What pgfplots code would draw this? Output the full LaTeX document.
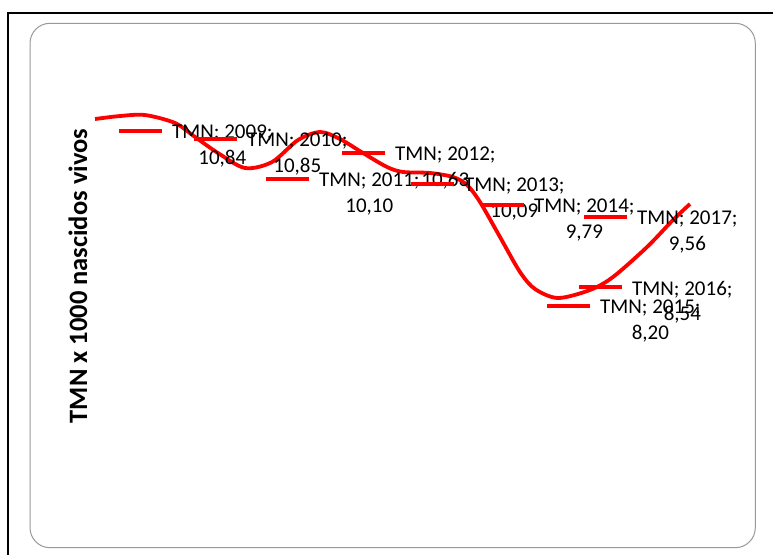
\documentclass[border=0pt]{standalone}
\usepackage{fontspec}
\setmainfont{Carlito}
\usepackage{pgfplots}
\pgfplotsset{compat=1.18}
\definecolor{framegray}{HTML}{9A9A9A}
\begin{document}
\begin{tikzpicture}
\useasboundingbox (0,0) rectangle (773bp,555bp);
\clip (0,0) rectangle (773bp,555bp);
\fill[white] (0,0) rectangle (773bp,555bp);
\draw[black, line width=2bp] (8.3bp,-20bp) -- (8.3bp,542.2bp) -- (800bp,542.2bp);
\draw[framegray, line width=1bp, rounded corners=20bp] (30bp,7.3bp) rectangle (755.3bp,531.7bp);
\begin{axis}[at={(0,0)}, anchor=south west, width=773bp, height=555bp,
  scale only axis, hide axis, xmin=0, xmax=773, ymin=4.445, ymax=12.816, clip=false]
\addplot[red, line width=3.8bp, smooth, tension=0.5] coordinates {
(95,11.021) (120,11.066) (145,11.081) (175,10.961) (195,10.750) (218,10.508)
(245,10.282) (272,10.372) (298,10.704) (320,10.825) (340,10.719) (363,10.508)
(387,10.297) (403,10.222) (430,10.207) (453,10.146) (467,10.026) (480,9.769)
(500,9.241) (520,8.713) (535,8.457) (558,8.321) (590,8.442) (613,8.638)
(647,9.090) (673,9.498) (690,9.739)};
\addplot[red, only marks, mark=-, mark size=21.5bp, mark options={line width=4bp}] coordinates {
(140,10.840) (215,10.719) (287,10.116) (363,10.508) (432,10.041)
(502,9.724) (568,8.201) (600,8.487) (605,9.543)};
\begin{scope}[every node/.style={anchor=west, align=center, inner sep=0pt, xshift=32bp, yshift=-15bp, font=\fontsize{21bp}{25.5bp}\selectfont}]
\node at (axis cs:140,10.840) {TMN; 2009;\\10,84};
\node at (axis cs:215,10.719) {TMN; 2010;\\10,85};
\node at (axis cs:287,10.116) {TMN; 2011;\\10,10};
\node at (axis cs:363,10.508) {TMN; 2012;\\10,63};
\node at (axis cs:432,10.041) {TMN; 2013;\\10,09};
\node at (axis cs:502,9.724) {TMN; 2014;\\9,79};
\node at (axis cs:568,8.201) {TMN; 2015;\\8,20};
\node at (axis cs:600,8.487) {TMN; 2016;\\8,54};
\node at (axis cs:605,9.543) {TMN; 2017;\\9,56};
\end{scope}
\end{axis}
\node[rotate=90, inner sep=0pt, font=\bfseries\fontsize{26.5bp}{32bp}\selectfont] at (78bp,279bp) {TMN x 1000 nascidos vivos};
\end{tikzpicture}
\end{document}
